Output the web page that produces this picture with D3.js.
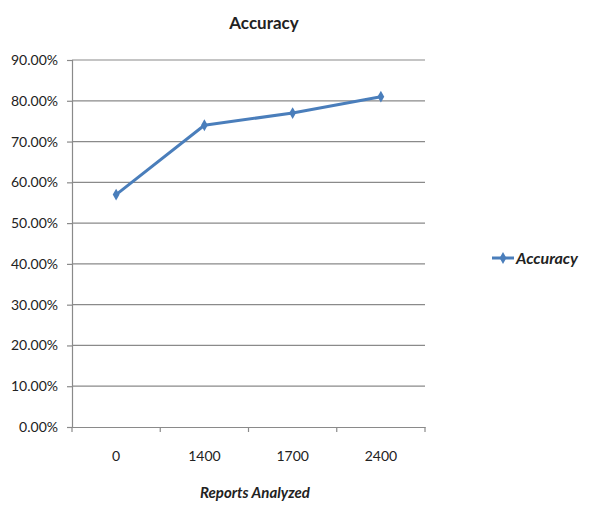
<!DOCTYPE html>
<html><head><meta charset="utf-8">
<script src="https://cdn.jsdelivr.net/npm/d3@7"></script>
<style>body{margin:0;background:#fff;} text{font-family:Lato,"Open Sans",sans-serif;fill:#222;}</style>
</head><body>
<svg id="c" width="590" height="508"></svg>
<script>
const categories = ["0", "1400", "1700", "2400"];
const accuracy = [0.57, 0.74, 0.77, 0.81];
const yTicks = [0, 0.1, 0.2, 0.3, 0.4, 0.5, 0.6, 0.7, 0.8, 0.9];
const seriesName = "Accuracy";
const chartTitle = "Accuracy";
const xTitle = "Reports Analyzed";

(function () {
const svg = d3.select("#c");
const mLeft = 72, mRight = 425, mTop = 60, mBottom = 427;
const x = d3.scaleBand().domain(categories).range([mLeft, mRight]);
const y = d3.scaleLinear().domain([0, 0.9]).range([mBottom, mTop]);
const grey = "#8a8a8a", blue = "#4a7ebb";

// gridlines
svg.append("g").selectAll("line").data(yTicks.filter(d => d > 0)).join("line")
  .attr("x1", mLeft).attr("x2", mRight).attr("y1", d => y(d)).attr("y2", d => y(d))
  .attr("stroke", grey).attr("stroke-width", 1.2);

// y axis
const ya = svg.append("g").attr("transform", `translate(${mLeft},0)`)
  .call(d3.axisLeft(y).tickValues(yTicks).tickFormat(d3.format(".2%")).tickSize(5).tickPadding(9));
ya.select(".domain").attr("stroke", grey).attr("stroke-width", 1.2);
ya.selectAll(".tick line").attr("stroke", grey).attr("stroke-width", 1.2);
ya.selectAll("text").style("font-size", "14px").attr("fill", "#222");

// x axis
const xa = svg.append("g").attr("transform", `translate(0,${mBottom})`)
  .call(d3.axisBottom(x).tickSize(0).tickPadding(24));
xa.select(".domain").attr("stroke", grey).attr("stroke-width", 1.2);
xa.selectAll("text").style("font-size", "14px").attr("fill", "#222");
const edges = categories.map(c => x(c)).concat([mRight]);
svg.append("g").selectAll("line").data(edges).join("line")
  .attr("x1", d => d).attr("x2", d => d).attr("y1", mBottom).attr("y2", mBottom + 5)
  .attr("stroke", grey).attr("stroke-width", 1.2);

// line
const line = d3.line().x((d, i) => x(categories[i]) + x.bandwidth() / 2).y(d => y(d));
svg.append("path").datum(accuracy).attr("d", line)
  .attr("fill", "none").attr("stroke", blue).attr("stroke-width", 3).attr("stroke-linejoin", "round");
const sym = d3.symbol().type(d3.symbolDiamond).size(40);
svg.append("g").selectAll("path").data(accuracy).join("path")
  .attr("d", sym).attr("fill", blue)
  .attr("transform", (d, i) => `translate(${x(categories[i]) + x.bandwidth() / 2},${y(d)})`);

// title
svg.append("text").attr("x", 264).attr("y", 29).attr("text-anchor", "middle")
  .style("font-size", "17px").style("font-weight", "bold").text(chartTitle);
// x title
svg.append("text").attr("x", 255).attr("y", 498).attr("text-anchor", "middle")
  .style("font-size", "15px").style("font-weight", "bold").style("font-style", "italic").text(xTitle);

// legend
const ly = 258;
svg.append("line").attr("x1", 492).attr("x2", 514).attr("y1", ly).attr("y2", ly)
  .attr("stroke", blue).attr("stroke-width", 3);
svg.append("path").attr("d", sym).attr("fill", blue).attr("transform", `translate(503,${ly})`);
svg.append("text").attr("x", 516).attr("y", ly + 6)
  .style("font-size", "16px").style("font-weight", "bold").style("font-style", "italic").text(seriesName);
})();
</script>
</body></html>
